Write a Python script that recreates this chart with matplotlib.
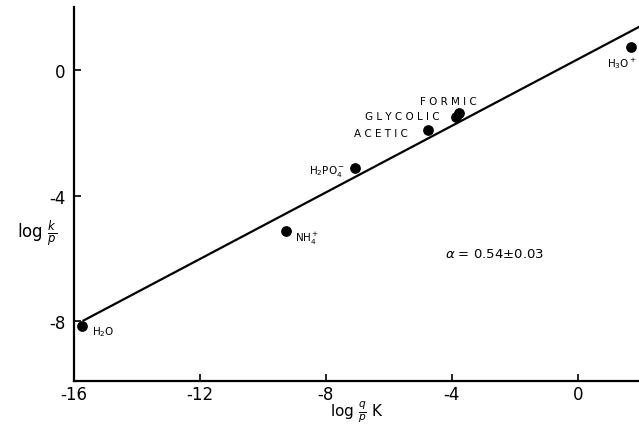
import matplotlib
matplotlib.use("Agg")
from matplotlib import pyplot as plt

# acids: log(q/p K) vs log(k/p)
names = ["H2O", "NH4+", "H2PO4-", "ACETIC", "GLYCOLIC", "FORMIC", "H3O+"]
log_qK = [-15.75, -9.27, -7.08, -4.76, -3.87, -3.78, 1.68]
log_k = [-8.13, -5.11, -3.11, -1.90, -1.49, -1.37, 0.73]

# fitted line (slope ~0.54)
fit_x = [-15.7, 1.95]
fit_y = [-7.97, 1.37]

x_ticks = [-16, -12, -8, -4, 0]
y_ticks = [-8, -4, 0]

# label text, position (x, y) and alignment for each point
point_labels = [
    (r"H$_2$O", -15.43, -8.32, "left"),
    (r"NH$_4^+$", -8.98, -5.33, "left"),
    (r"H$_2$PO$_4^-$", -7.4, -3.2, "right"),
    ("A C E T I C", -5.4, -2.0, "right"),
    ("G L Y C O L I C", -4.4, -1.46, "right"),
    ("F O R M I C", -4.1, -0.98, "center"),
    (r"H$_3$O$^+$", 0.92, 0.25, "left"),
]

fig = plt.figure(figsize=(6.39, 4.27), dpi=100)
ax = fig.add_axes([0.116, 0.105, 0.884, 0.876])

ax.plot(fit_x, fit_y, color="black", lw=1.6)
ax.scatter(log_qK, log_k, s=45, color="black", zorder=3)

for txt, tx, ty, ha in point_labels:
    ax.text(tx, ty, txt, fontsize=7.5, ha=ha, va="center", clip_on=False)

ax.text(-4.2, -5.84, r"$\alpha$ = 0.54$\pm$0.03", fontsize=9.5, ha="left", va="center")

ax.set_xlim(-16, 1.95)
ax.set_ylim(-9.9, 2.0)
ax.set_xticks(x_ticks)
ax.set_yticks(y_ticks)
ax.set_xticklabels([str(v) for v in x_ticks])
ax.set_yticklabels([str(v) for v in y_ticks])
ax.tick_params(direction="in", length=5, width=1.2, labelsize=12)
ax.tick_params(axis="x", pad=3)
ax.tick_params(axis="y", pad=6)

for side in ["top", "right"]:
    ax.spines[side].set_visible(False)
for side in ["left", "bottom"]:
    ax.spines[side].set_linewidth(1.6)

ax.set_xlabel(r"log $\frac{q}{p}$ K", fontsize=11, labelpad=0)
ax.xaxis.label.set_va("bottom")
ax.xaxis.set_label_coords(0.5, -0.115)
ax.set_ylabel(r"log $\frac{k}{p}$", fontsize=12, rotation=0)
ax.yaxis.set_label_coords(-0.065, 0.36)

fig.savefig("out.png", dpi=100)
